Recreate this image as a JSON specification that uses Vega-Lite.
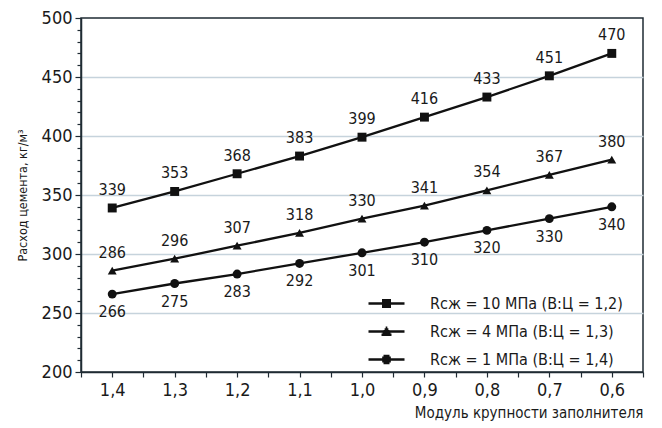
{
  "$schema": "https://vega.github.io/schema/vega-lite/v6.json",
  "width": 562,
  "height": 354,
  "autosize": {"type": "none"},
  "padding": {"left": 81, "top": 18, "right": 19, "bottom": 56},
  "background": "white",
  "config": {
    "font": "DejaVu Sans Condensed, sans-serif",
    "view": {"stroke": "#1f2b33", "strokeWidth": 1.5},
    "axis": {
      "labelFont": "DejaVu Sans Condensed, sans-serif",
      "titleFont": "DejaVu Sans Condensed, sans-serif",
      "labelColor": "#1a1a1a",
      "titleColor": "#1a1a1a",
      "titleFontWeight": "normal",
      "domainColor": "#1f2b33",
      "domainWidth": 1.5,
      "tickColor": "#1f2b33",
      "tickWidth": 1.2
    }
  },
  "data": {
    "values": [
      {"s": "Rсж = 10 МПа (В:Ц = 1,2)", "x": 1.4, "y": 339},
      {"s": "Rсж = 10 МПа (В:Ц = 1,2)", "x": 1.3, "y": 353},
      {"s": "Rсж = 10 МПа (В:Ц = 1,2)", "x": 1.2, "y": 368},
      {"s": "Rсж = 10 МПа (В:Ц = 1,2)", "x": 1.1, "y": 383},
      {"s": "Rсж = 10 МПа (В:Ц = 1,2)", "x": 1.0, "y": 399},
      {"s": "Rсж = 10 МПа (В:Ц = 1,2)", "x": 0.9, "y": 416},
      {"s": "Rсж = 10 МПа (В:Ц = 1,2)", "x": 0.8, "y": 433},
      {"s": "Rсж = 10 МПа (В:Ц = 1,2)", "x": 0.7, "y": 451},
      {"s": "Rсж = 10 МПа (В:Ц = 1,2)", "x": 0.6, "y": 470},
      {"s": "Rсж = 4 МПа (В:Ц = 1,3)", "x": 1.4, "y": 286},
      {"s": "Rсж = 4 МПа (В:Ц = 1,3)", "x": 1.3, "y": 296},
      {"s": "Rсж = 4 МПа (В:Ц = 1,3)", "x": 1.2, "y": 307},
      {"s": "Rсж = 4 МПа (В:Ц = 1,3)", "x": 1.1, "y": 318},
      {"s": "Rсж = 4 МПа (В:Ц = 1,3)", "x": 1.0, "y": 330},
      {"s": "Rсж = 4 МПа (В:Ц = 1,3)", "x": 0.9, "y": 341},
      {"s": "Rсж = 4 МПа (В:Ц = 1,3)", "x": 0.8, "y": 354},
      {"s": "Rсж = 4 МПа (В:Ц = 1,3)", "x": 0.7, "y": 367},
      {"s": "Rсж = 4 МПа (В:Ц = 1,3)", "x": 0.6, "y": 380},
      {"s": "Rсж = 1 МПа (В:Ц = 1,4)", "x": 1.4, "y": 266},
      {"s": "Rсж = 1 МПа (В:Ц = 1,4)", "x": 1.3, "y": 275},
      {"s": "Rсж = 1 МПа (В:Ц = 1,4)", "x": 1.2, "y": 283},
      {"s": "Rсж = 1 МПа (В:Ц = 1,4)", "x": 1.1, "y": 292},
      {"s": "Rсж = 1 МПа (В:Ц = 1,4)", "x": 1.0, "y": 301},
      {"s": "Rсж = 1 МПа (В:Ц = 1,4)", "x": 0.9, "y": 310},
      {"s": "Rсж = 1 МПа (В:Ц = 1,4)", "x": 0.8, "y": 320},
      {"s": "Rсж = 1 МПа (В:Ц = 1,4)", "x": 0.7, "y": 330},
      {"s": "Rсж = 1 МПа (В:Ц = 1,4)", "x": 0.6, "y": 340}
    ]
  },
  "encoding": {
    "x": {
      "field": "x",
      "type": "quantitative",
      "scale": {"domain": [0.55, 1.45], "reverse": true, "nice": false, "zero": false},
      "axis": {
        "title": "Модуль крупности заполнителя",
        "titleAnchor": "start",
        "titleAlign": "right",
        "titleFontSize": 15,
        "titlePadding": 6,
        "values": [1.45, 1.4, 1.35, 1.3, 1.25, 1.2, 1.15, 1.1, 1.05, 1.0, 0.95, 0.9, 0.85, 0.8, 0.75, 0.7, 0.65, 0.6, 0.55],
        "labelExpr": "abs(datum.value * 10 - round(datum.value * 10)) < 0.001 ? replace(format(datum.value, '.1f'), '.', ',') : ''",
        "labelFontSize": 18,
        "labelPadding": 4,
        "tickSize": 5,
        "grid": false,
        "labelOverlap": false
      }
    },
    "y": {
      "field": "y",
      "type": "quantitative",
      "scale": {"domain": [200, 500], "nice": false, "zero": false},
      "axis": {
        "title": "Расход цемента, кг/м³",
        "titleFontSize": 12.5,
        "titlePadding": 12,
        "values": [200, 210, 220, 230, 240, 250, 260, 270, 280, 290, 300, 310, 320, 330, 340, 350, 360, 370, 380, 390, 400, 410, 420, 430, 440, 450, 460, 470, 480, 490, 500],
        "labelExpr": "datum.value % 50 === 0 ? datum.label : ''",
        "labelFontSize": 18,
        "labelPadding": 3,
        "tickSize": {"condition": {"test": "datum.value % 50 === 0", "value": 6}, "value": 4},
        "grid": true,
        "gridColor": "#c6d3dc",
        "gridWidth": 1.5,
        "gridOpacity": {"condition": {"test": "datum.value % 50 === 0 && datum.value > 200 && datum.value < 500", "value": 1}, "value": 0},
        "labelOverlap": false
      }
    }
  },
  "resolve": {"scale": {"shape": "independent"}, "legend": {"shape": "independent"}},
  "layer": [
    {
      "mark": {"type": "line", "color": "#111111", "strokeWidth": 2.3},
      "encoding": {"detail": {"field": "s"}}
    },
    {
      "mark": {"type": "point", "filled": true, "color": "#111111", "opacity": 1, "size": 80},
      "encoding": {
        "shape": {
          "field": "s",
          "type": "nominal",
          "scale": {
            "domain": ["Rсж = 10 МПа (В:Ц = 1,2)", "Rсж = 4 МПа (В:Ц = 1,3)", "Rсж = 1 МПа (В:Ц = 1,4)"],
            "range": ["square", "triangle-up", "circle"]
          },
          "legend": null
        }
      }
    },
    {
      "transform": [{"filter": "datum.x > 5"}],
      "mark": {"type": "point", "filled": false, "color": "#111111", "opacity": 1, "strokeWidth": 2.5},
      "encoding": {
        "shape": {
          "field": "s",
          "type": "nominal",
          "scale": {
            "domain": ["Rсж = 10 МПа (В:Ц = 1,2)", "Rсж = 4 МПа (В:Ц = 1,3)", "Rсж = 1 МПа (В:Ц = 1,4)"],
            "range": [
              "M-1,0H1M-0.25,-0.19H0.25M-0.25,-0.095H0.25M-0.25,0.095H0.25M-0.25,0.19H0.25",
              "M-1,0H1M-0.277,0.18H0.277M-0.219,0.08H0.219M-0.162,-0.02H0.162M-0.104,-0.12H0.104M-0.046,-0.22H0.046",
              "M-1,0H1M-0.166,-0.2H0.166M-0.24,-0.1H0.24M-0.24,0.1H0.24M-0.166,0.2H0.166"
            ]
          },
          "legend": {
            "title": null,
            "orient": "none",
            "legendX": 286,
            "legendY": 266,
            "padding": 0,
            "symbolSize": 1296,
            "symbolStrokeColor": "#111111",
            "symbolStrokeWidth": 2.3,
            "symbolOpacity": 1,
            "labelFontSize": 16,
            "labelColor": "#1a1a1a",
            "labelFont": "DejaVu Sans Condensed, sans-serif",
            "labelOffset": 24,
            "rowPadding": -8,
            "labelLimit": 300
          }
        }
      }
    },
    {
      "transform": [{"filter": "indexof(datum.s, '= 1 ') < 0"}],
      "mark": {"type": "text", "dy": -18, "fontSize": 16, "color": "#1a1a1a", "align": "center", "baseline": "middle"},
      "encoding": {"text": {"field": "y", "type": "quantitative"}}
    },
    {
      "transform": [{"filter": "indexof(datum.s, '= 1 ') >= 0"}],
      "mark": {"type": "text", "dy": 18, "fontSize": 16, "color": "#1a1a1a", "align": "center", "baseline": "middle"},
      "encoding": {"text": {"field": "y", "type": "quantitative"}}
    }
  ]
}
